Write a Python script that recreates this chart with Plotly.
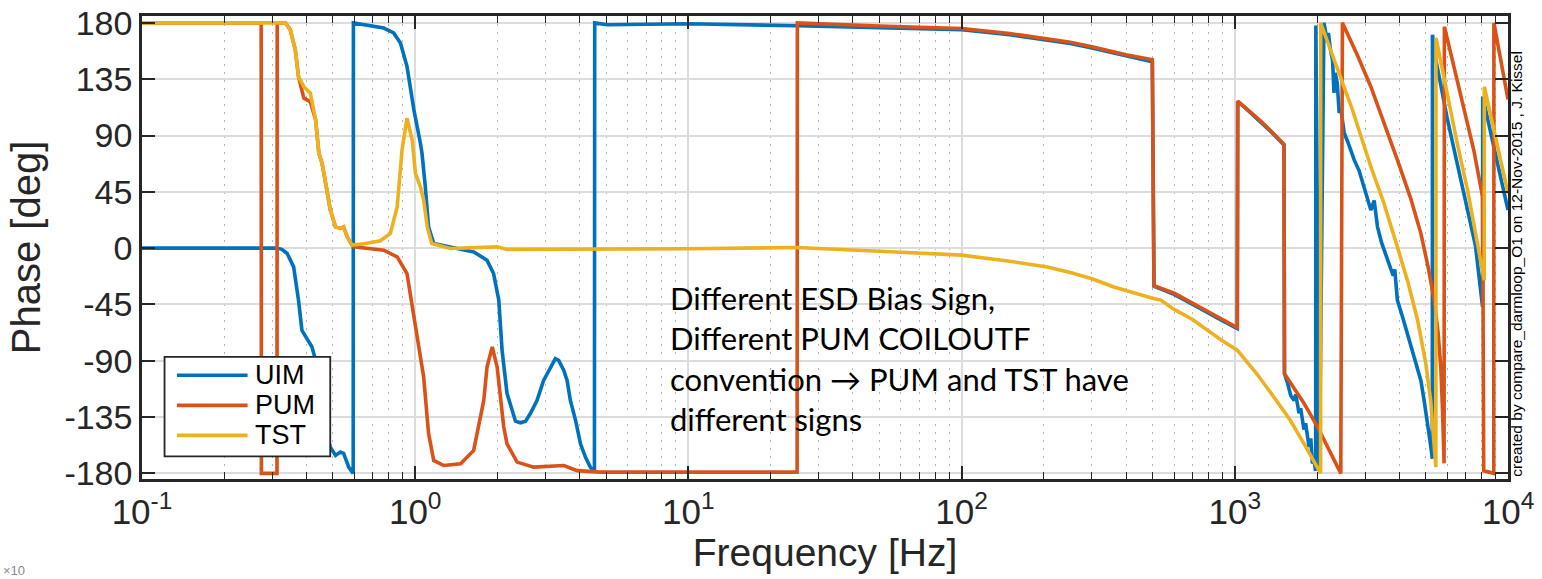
import plotly.graph_objects as go

# ---------------- data ----------------
uim_freq = [0.1, 0.312, 0.325, 0.340, 0.359, 0.374, 0.385, 0.402, 0.419, 0.432, 0.447, 0.468,
            0.489, 0.511, 0.532, 0.547, 0.571, 0.593, 0.594, 0.647, 0.767, 0.834, 0.883, 0.933,
            0.989, 1.045, 1.059, 1.089, 1.119, 1.169, 1.422, 1.637, 1.832, 1.936, 2.023, 2.080,
            2.168, 2.296, 2.328, 2.427, 2.535, 2.642, 2.793, 2.951, 3.126, 3.258, 3.35, 3.499,
            3.597, 3.698, 3.864, 4.027, 4.198, 4.375, 4.529, 4.54,
            5.047, 10, 25, 50, 100, 150, 206, 250, 300, 361, 400, 499, 506, 600, 729, 800, 900, 1021,
            1025, 1100, 1245, 1350, 1514, 1520,
            1560, 1603, 1649, 1672, 1718, 1742, 1791, 1816, 1870, 1897, 1923, 1950, 1977, 1980,
            2040, 2120, 2180, 2200, 2239, 2280, 2307, 2330, 2371, 2410, 2443, 2514, 2600, 2735, 2850,
            2974, 3148, 3237, 3300, 3329, 3450, 3622, 3800, 3850, 3936, 4100, 4285, 4450, 4667, 4800,
            4932, 5050, 5145, 5220, 5284,
            5290, 5450, 5675, 6000, 6353, 6700, 7112, 7600, 8072, 8080, 9000, 10000]
uim_phase = [0, 0, -1, -4.3, -15, -41.6, -65.7, -72.3, -79, -89.7, -112, -142,
             -159, -165.7, -163, -164, -175, -180, 180, 178.5, 175.9, 172, 164, 145.3,
             110.5, 83.8, 75.8, 49, 17, 3.7, -0.3, -3, -9.6, -20.3, -41.6, -81.7,
             -116, -134.8, -138.3, -139.6, -138.3, -132, -121.7, -105.7, -95, -88.3, -89.7, -97.7,
             -105.7, -121.7, -137.6, -156.4, -167, -175, -178.5, 180,
             178.5, 179.3, 177.7, 176.5, 174.6, 170.5, 166.5, 163.5, 160, 156, 153.5, 149, -30.4, -37,
             -47, -52, -58, -64.3,
             117, 111.5, 101, 93.5, 82.5, -100.3,
             -108, -118, -121.7, -117, -132, -128, -145, -140, -159, -152, -172, -170, -178, 178,
             -177, 180, 165, 172, 158.5, 150, 124, 140, 132, 108, 112, 92, 84, 70.5, 62,
             49, 30.4, 38, 22, 17, 4, -9.6, -22, -17, -41.6, -54, -68.3, -80, -95, -106,
             -121.7, -136, -148.4, -159, -168.4,
             170.5, 150, 129, 103, 78.5, 56, 33, 2, -47, 121, 75, 30.4]

pum_freq = [0.1, 0.273, 0.2735, 0.312, 0.3125, 0.335, 0.349, 0.364, 0.374, 0.391, 0.413, 0.432,
            0.444, 0.456, 0.475, 0.489, 0.511, 0.532, 0.547, 0.564, 0.587, 0.596, 0.767, 0.859,
            0.933, 0.989, 1.030, 1.074, 1.119, 1.169, 1.271, 1.466, 1.637, 1.782, 1.832, 1.914,
            1.995, 2.051, 2.109, 2.168, 2.360, 2.716, 3.499, 3.917, 4.764, 25, 25.05, 50, 100, 150,
            206, 250, 300, 361, 400, 499, 506, 600, 729, 800, 900, 1021, 1025, 1100, 1245, 1350,
            1514, 1520, 1791, 2000, 2200, 2443, 2477, 2800, 3148, 3500, 3936, 4400, 4797, 5100,
            5370, 5550, 5675, 5760, 5834, 5850, 6300, 6902, 7500, 8072, 8150, 8870, 8880, 10000]
pum_phase = [180, 180, -180, -180, 180, 180, 174.5, 158.5, 137, 120, 117, 102.5,
             75.8, 67.8, 46.4, 30.4, 17, 15.8, 17, 9, 2.4, 1, -1.6, -7,
             -20.3, -55, -81.7, -103, -148, -169.7, -173.7, -172.4, -161.7, -121.7, -95, -79,
             -95, -121.7, -143, -156.4, -171, -175, -173.7, -177.8, -179, -179, 180, 177.5, 175.5, 171.5,
             167.5, 164.5, 161, 157, 154.5, 150.5, -30, -36, -46, -51, -57, -63.5, 117.5, 112, 101.5, 94,
             83, -100.3, -124, -142, -160, -180, 180, 155, 129, 102, 70.5, 40, 11.8, -15,
             -41.6, -68, -95, -130, -172, 177, 148, 110.5, 78, 41, -178, -180, 180, 118.8]

tst_freq = [0.1, 0.335, 0.349, 0.364, 0.374, 0.391, 0.413, 0.432, 0.444, 0.456, 0.475, 0.489,
            0.511, 0.532, 0.547, 0.564, 0.587, 0.65, 0.746, 0.811, 0.859, 0.895, 0.933, 0.975,
            1.002, 1.045, 1.074, 1.107, 1.15, 1.346, 1.995, 2.168, 10, 25, 50, 100, 150, 206, 250,
            300, 361, 400, 500, 536, 600, 700, 796, 900, 1021, 1200, 1400, 1600, 1800, 2000, 2061,
            2062, 2443, 2700, 3148, 3500, 3936, 4300, 4667, 5000, 5212, 5445, 5450, 5998, 6500,
            7112, 7600, 8185, 8190, 10000]
tst_phase = [180, 180, 174.5, 158.5, 137, 129, 124, 102.5, 75.8, 67.8, 46.4, 30.4,
             17, 15.8, 17, 9, 2.4, 3.5, 5.9, 11.7, 33, 78.5, 103.8, 86.5,
             59.8, 49, 38.4, 17, 3.7, -0.3, 1, -1, -0.5, 0.5, -2.5, -5.6, -10.5, -15, -19.5,
             -24.5, -31, -34, -40, -41.5, -49, -57, -66, -74, -81.5, -100, -120, -138, -157, -174, -180,
             180, 137, 110, 65, 37, 1, -27, -57.6, -92, -121.7, -175, 168, 121, 85,
             46.4, 12, -25.6, 129, 43.8]

series_names = ["UIM", "PUM", "TST"]
series_colors = ["#0072BD", "#D95319", "#EDB120"]

x_tick_vals = [0.1, 1, 10, 100, 1000, 10000]
x_tick_text = ["10<sup>-1</sup>", "10<sup>0</sup>", "10<sup>1</sup>",
               "10<sup>2</sup>", "10<sup>3</sup>", "10<sup>4</sup>"]
y_tick_vals = [-180, -135, -90, -45, 0, 45, 90, 135, 180]
y_tick_text = ["-180", "-135", "-90", "-45", "0", "45", "90", "135", "180"]

note_text = ("Different ESD Bias Sign,<br>Different PUM COILOUTF<br>"
             "convention \u2192 PUM and TST have<br>different signs")
credit_text = "created by compare_darmloop_O1 on 12-Nov-2015 , J. Kissel"

# ---------------- figure ----------------
fig = go.Figure()
for name, fx, ph, col in zip(series_names, [uim_freq, pum_freq, tst_freq],
                             [uim_phase, pum_phase, tst_phase], series_colors):
    fig.add_trace(go.Scatter(x=fx, y=ph, mode="lines", name=name,
                             line=dict(color=col, width=3.6), showlegend=False))

minor_vals = [m * 10 ** e for e in range(-1, 4) for m in range(2, 10)]
axis_col = "#262626"
font_main = "Liberation Sans, Arial, sans-serif"

fig.update_xaxes(type="log", range=[-1, 4], tickvals=x_tick_vals, ticktext=x_tick_text,
                 ticks="inside", ticklen=13, tickwidth=1.5, tickcolor=axis_col,
                 showline=True, linecolor=axis_col, linewidth=2.5, mirror="allticks",
                 showgrid=True, gridcolor="#dcdcdc", gridwidth=1.5, zeroline=False,
                 tickfont=dict(family=font_main, size=35, color="#262626"),
                 minor=dict(tickvals=minor_vals, ticks="inside", ticklen=7, tickwidth=1.2,
                            tickcolor=axis_col, showgrid=True, gridcolor="#b4b4b4",
                            griddash="1.5px,6.5px", gridwidth=1.4),
                 title=dict(text="Frequency [Hz]", standoff=8,
                            font=dict(family=font_main, size=39, color="#262626")))
fig.update_yaxes(range=[-184.5, 185.5], tickvals=y_tick_vals, ticktext=y_tick_text,
                 ticks="inside", ticklen=13, tickwidth=1.5, tickcolor=axis_col,
                 showline=True, linecolor=axis_col, linewidth=2.5, mirror="allticks",
                 showgrid=True, gridcolor="#dcdcdc", gridwidth=1.5, zeroline=False,
                 tickfont=dict(family=font_main, size=34, color="#262626"),
                 title=dict(text="Phase [deg]", standoff=12,
                            font=dict(family=font_main, size=40, color="#262626")))

# legend drawn as a boxed key
fig.add_shape(type="rect", xref="paper", yref="paper", x0=0.0165, x1=0.1378, y0=0.0487, y1=0.2636,
              fillcolor="white", line=dict(color=axis_col, width=1.8), layer="above")
row_y = [0.2240, 0.1591, 0.0942]
for col, yy in zip(series_colors, row_y):
    fig.add_shape(type="line", xref="paper", yref="paper", x0=0.0256, x1=0.0773, y0=yy, y1=yy,
                  line=dict(color=col, width=3.6), layer="above")
legend_text = "<br>".join("<span style='font-size:27px'>%s</span>" % n for n in series_names)
fig.add_annotation(xref="paper", yref="paper", x=0.0815, y=row_y[1], text=legend_text,
                   showarrow=False, xanchor="left", yanchor="middle", align="left",
                   font=dict(family=font_main, size=23, color="black"))

fig.add_annotation(xref="paper", yref="paper", x=0.3852, y=0.2608, text=note_text,
                   showarrow=False, xanchor="left", yanchor="middle", align="left",
                   font=dict(family="Lato, Open Sans, sans-serif", size=31, color="black"))

fig.add_annotation(xref="paper", yref="paper", x=1.0062, y=0.466, text=credit_text,
                   showarrow=False, textangle=-90, xanchor="center", yanchor="middle",
                   font=dict(family=font_main, size=15.5, color="black"))

fig.add_annotation(xref="paper", yref="paper", x=-0.1035, y=-0.2175, text="\u00d710",
                   showarrow=False, xanchor="left", yanchor="bottom",
                   font=dict(family=font_main, size=13, color="#8a8a8a"))

fig.update_layout(width=1542, height=579, margin=dict(l=142, r=34, t=16, b=100, autoexpand=False),
                  plot_bgcolor="white", paper_bgcolor="white", showlegend=False)

fig.write_html("out.html")
